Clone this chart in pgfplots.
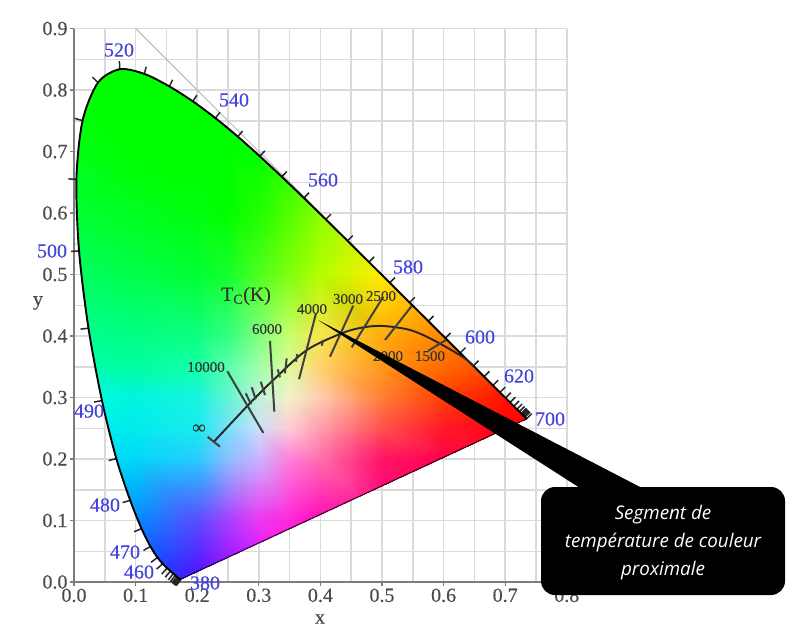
\documentclass[border=0pt]{standalone}
\usepackage{fontspec}
\setmainfont{Liberation Serif}
\newfontfamily\tf[FakeBold=0.35]{Liberation Serif}
\newfontfamily\wf[FakeBold=0.2]{Liberation Serif}
\newfontfamily\cf{Open Sans}
\usepackage{pgfplots}
\usepgfplotslibrary{patchplots}
\pgfplotsset{compat=1.18}
\definecolor{tickg}{RGB}{75,75,75}
\definecolor{axg}{RGB}{125,125,125}
\definecolor{gridg}{RGB}{218,218,218}
\definecolor{wl}{RGB}{65,65,220}
\newcommand\PP[2]{({#1pt-74pt},{582pt-#2pt})}
\newcommand\fs[1]{\fontsize{#1}{#1}\selectfont}
\begin{document}
\begin{tikzpicture}[x=1pt,y=1pt]
\useasboundingbox (-74pt,-51pt) rectangle (736pt,582pt);
\begin{axis}[
  at={(0pt,0pt)},anchor=south west,
  scale only axis,width=492.8pt,height=553.5pt,
  xmin=0,xmax=0.8,ymin=0,ymax=0.9,clip=false,
  axis lines=left,
  axis line style={-,color=axg,line width=1.6pt},
  xtick={0,0.1,...,0.8},ytick={0,0.1,...,0.9},
  minor tick num=1,grid=both,
  major grid style={gridg,line width=1.5pt},
  minor grid style={gridg,line width=1.5pt},
  major tick length=4pt,minor tick length=0pt,tick align=outside,
  tick style={axg,line width=1.3pt},
  tick label style={font=\tf\fs{20},text=tickg},
  every x tick label/.append style={yshift=1pt},
  every y tick label/.append style={xshift=1pt},
  /pgf/number format/.cd,fixed,fixed zerofill,precision=1,assume math mode=true,
]
\addplot[gray!55,line width=1pt,forget plot] coordinates {(0.1,0.9) (0.7347,0.2653)};
\begin{scope}
\clip plot[smooth] coordinates {(axis cs:.1741,.0050)(axis cs:.1714,.0051)(axis cs:.1689,.0069)(axis cs:.1644,.0109)(axis cs:.1566,.0177)(axis cs:.1510,.0227)(axis cs:.1440,.0297)(axis cs:.1355,.0399)(axis cs:.1241,.0578)(axis cs:.1096,.0868)(axis cs:.0913,.1327)(axis cs:.0687,.2007)(axis cs:.0454,.2950)(axis cs:.0235,.4127)(axis cs:.0082,.5384)(axis cs:.0039,.6548)(axis cs:.0139,.7502)(axis cs:.0389,.8120)(axis cs:.0743,.8338)(axis cs:.1142,.8262)(axis cs:.1547,.8059)(axis cs:.1929,.7816)(axis cs:.2296,.7543)(axis cs:.2658,.7243)(axis cs:.3016,.6923)(axis cs:.3373,.6589)(axis cs:.3731,.6245)(axis cs:.4087,.5896)(axis cs:.4441,.5547)(axis cs:.4788,.5202)(axis cs:.5125,.4866)(axis cs:.5448,.4544)(axis cs:.5752,.4242)(axis cs:.6029,.3965)(axis cs:.6270,.3725)(axis cs:.6482,.3514)(axis cs:.6658,.3340)(axis cs:.6801,.3197)(axis cs:.6915,.3083)(axis cs:.7006,.2993)(axis cs:.7079,.2920)(axis cs:.7140,.2859)(axis cs:.7190,.2809)(axis cs:.7260,.2740)(axis cs:.7347,.2653)} -- cycle;
\addplot[patch,patch type=rectangle,shader=interp,mesh/color input=explicit,forget plot,
  table/row sep=\\,
  patch table={
0 1 12 11\\1 2 13 12\\2 3 14 13\\3 4 15 14\\4 5 16 15\\5 6 17 16\\6 7 18 17\\7 8 19 18\\8 9 20 19\\9 10 21 20\\
11 12 23 22\\12 13 24 23\\13 14 25 24\\14 15 26 25\\15 16 27 26\\16 17 28 27\\17 18 29 28\\18 19 30 29\\19 20 31 30\\20 21 32 31\\
22 23 34 33\\23 24 35 34\\24 25 36 35\\25 26 37 36\\26 27 38 37\\27 28 39 38\\28 29 40 39\\29 30 41 40\\30 31 42 41\\31 32 43 42\\
33 34 45 44\\34 35 46 45\\35 36 47 46\\36 37 48 47\\37 38 49 48\\38 39 50 49\\39 40 51 50\\40 41 52 51\\41 42 53 52\\42 43 54 53\\
44 45 56 55\\45 46 57 56\\46 47 58 57\\47 48 59 58\\48 49 60 59\\49 50 61 60\\50 51 62 61\\51 52 63 62\\52 53 64 63\\53 54 65 64\\
55 56 67 66\\56 57 68 67\\57 58 69 68\\58 59 70 69\\59 60 71 70\\60 61 72 71\\61 62 73 72\\62 63 74 73\\63 64 75 74\\64 65 76 75\\
66 67 78 77\\67 68 79 78\\68 69 80 79\\69 70 81 80\\70 71 82 81\\71 72 83 82\\72 73 84 83\\73 74 85 84\\74 75 86 85\\75 76 87 86\\
77 78 89 88\\78 79 90 89\\79 80 91 90\\80 81 92 91\\81 82 93 92\\82 83 94 93\\83 84 95 94\\84 85 96 95\\85 86 97 96\\86 87 98 97\\
88 89 100 99\\89 90 101 100\\90 91 102 101\\91 92 103 102\\92 93 104 103\\93 94 105 104\\94 95 106 105\\95 96 107 106\\96 97 108 107\\97 98 109 108\\
99 100 111 110\\100 101 112 111\\101 102 113 112\\102 103 114 113\\103 104 115 114\\104 105 116 115\\105 106 117 116\\106 107 118 117\\107 108 119 118\\108 109 120 119\\
  },
] table[meta=c] {
x y c\\
0 0 0,.35,1\\ .1 0 0,.28,1\\ .2 0 .3,.05,1\\ .25 0 .6,0,1\\ .3 0 .85,0,1\\ .35 0 1,0,.9\\ .4 0 1,0,.8\\ .5 0 1,0,.62\\ .6 0 1,0,.5\\ .7 0 1,0,.43\\ .8 0 1,0,.33\\
0 .1 0,.6,1\\ .1 .1 0,.55,1\\ .2 .1 .35,.3,1\\ .25 .1 .65,.25,1\\ .3 .1 .92,.22,.95\\ .35 .1 1,.15,.85\\ .4 .1 1,.05,.72\\ .5 .1 1,0,.55\\ .6 .1 1,0,.42\\ .7 .1 1,0,.33\\ .8 .1 1,0,.22\\
0 .2 0,.87,.97\\ .1 .2 0,.85,.97\\ .2 .2 .15,.8,1\\ .25 .2 .55,.75,1\\ .3 .2 .8,.7,1\\ .35 .2 1,.5,.85\\ .4 .2 1,.43,.67\\ .5 .2 1,.08,.4\\ .6 .2 1,0,.3\\ .7 .2 1,0,.2\\ .8 .2 1,0,0\\
0 .25 0,.93,.92\\ .1 .25 0,.93,.92\\ .2 .25 .1,.92,.93\\ .25 .25 .47,.88,.98\\ .3 .25 .8,.88,.98\\ .35 .25 1,.8,.85\\ .4 .25 1,.62,.68\\ .5 .25 1,.32,.3\\ .6 .25 1,.1,.15\\ .7 .25 1,0,.05\\ .8 .25 1,0,0\\
0 .3 0,1,.85\\ .1 .3 0,.96,.88\\ .2 .3 .08,.96,.88\\ .25 .3 .38,.96,.82\\ .3 .3 .75,.95,.85\\ .35 .3 .95,.95,.78\\ .4 .3 1,.8,.7\\ .5 .3 1,.5,.2\\ .6 .3 1,.25,.02\\ .7 .3 1,.08,0\\ .8 .3 1,0,0\\
0 .35 0,1,.68\\ .1 .35 0,1,.62\\ .2 .35 .08,1,.65\\ .25 .35 .35,1,.67\\ .3 .35 .62,1,.67\\ .35 .35 .88,.98,.6\\ .4 .35 1,.83,.42\\ .5 .35 1,.6,.1\\ .6 .35 1,.42,0\\ .7 .35 1,.28,0\\ .8 .35 1,.1,0\\
0 .4 0,1,.58\\ .1 .4 0,1,.52\\ .2 .4 .05,1,.5\\ .25 .4 .2,1,.5\\ .3 .4 .5,1,.5\\ .35 .4 .78,1,.43\\ .4 .4 .97,.9,.3\\ .5 .4 1,.68,.05\\ .6 .4 1,.52,0\\ .7 .4 1,.38,0\\ .8 .4 1,.25,0\\
0 .5 0,1,.38\\ .1 .5 0,1,.28\\ .2 .5 0,1,.2\\ .25 .5 .08,1,.17\\ .3 .5 .3,1,.12\\ .35 .5 .5,1,.05\\ .4 .5 .7,1,0\\ .5 .5 1,.93,0\\ .6 .5 1,.72,0\\ .7 .5 1,.55,0\\ .8 .5 1,.42,0\\
0 .6 0,1,.2\\ .1 .6 0,1,.12\\ .2 .6 0,1,.05\\ .25 .6 0,1,0\\ .3 .6 .12,1,0\\ .35 .6 .32,1,0\\ .4 .6 .55,1,0\\ .5 .6 .92,1,0\\ .6 .6 1,.85,0\\ .7 .6 1,.7,0\\ .8 .6 1,.6,0\\
0 .7 0,1,.08\\ .1 .7 0,1,0\\ .2 .7 0,1,0\\ .25 .7 0,1,0\\ .3 .7 0,1,0\\ .35 .7 .1,1,0\\ .4 .7 .38,1,0\\ .5 .7 .75,1,0\\ .6 .7 1,.98,0\\ .7 .7 1,.9,0\\ .8 .7 1,.8,0\\
0 .85 0,1,0\\ .1 .85 0,1,0\\ .2 .85 0,1,0\\ .25 .85 0,1,0\\ .3 .85 0,1,0\\ .35 .85 0,1,0\\ .4 .85 0,1,0\\ .5 .85 .57,1,0\\ .6 .85 .8,1,0\\ .7 .85 1,1,0\\ .8 .85 1,1,0\\
};
\end{scope}
% purple line
\addplot[black,opacity=0.7,line width=1.2pt,forget plot] coordinates {(.1741,.0050) (.7347,.2653)};
% wavelength ticks
\addplot[black!85,line width=1.5pt,unbounded coords=jump,forget plot] coordinates {
(.1741,.0050)(.1663,-.0054)(nan,nan)
(.1733,.0048)(.1655,-.0056)(nan,nan)
(.1721,.0048)(.1643,-.0056)(nan,nan)
(.1714,.0051)(.1636,-.0053)(nan,nan)
(.1703,.0058)(.1625,-.0046)(nan,nan)
(.1689,.0069)(.1611,-.0035)(nan,nan)
(.1669,.0086)(.1591,-.0018)(nan,nan)
(.1644,.0109)(.1566,.0005)(nan,nan)
(.1611,.0138)(.1533,.0034)(nan,nan)
(.1566,.0177)(.1481,.0078)(nan,nan)
(.1510,.0227)(.1425,.0128)(nan,nan)
(.1440,.0297)(.1342,.0211)(nan,nan)
(.1355,.0399)(.1251,.0321)(nan,nan)
(.1241,.0578)(.1128,.0513)(nan,nan)
(.1096,.0868)(.0976,.0818)(nan,nan)
(.0913,.1327)(.0788,.1292)(nan,nan)
(.0687,.2007)(.0562,.1975)(nan,nan)
(.0454,.2950)(.0327,.2926)(nan,nan)
(.0235,.4127)(.0106,.4112)(nan,nan)
(.0082,.5384)(-.0048,.5376)(nan,nan)
(.0039,.6548)(-.0091,.6554)(nan,nan)
(.0139,.7502)(.0013,.7539)(nan,nan)
(.0389,.8120)(.0300,.8210)(nan,nan)
(.0743,.8338)(.0737,.8468)(nan,nan)
(.1142,.8262)(.1172,.8378)(nan,nan)
(.1547,.8059)(.1601,.8166)(nan,nan)
(.1929,.7816)(.1995,.7916)(nan,nan)
(.2296,.7543)(.2370,.7637)(nan,nan)
(.2658,.7243)(.2737,.7333)(nan,nan)
(.3016,.6923)(.3098,.7011)(nan,nan)
(.3373,.6589)(.3456,.6675)(nan,nan)
(.3731,.6245)(.3815,.6330)(nan,nan)
(.4087,.5896)(.4171,.5981)(nan,nan)
(.4441,.5547)(.4525,.5632)(nan,nan)
(.4788,.5202)(.4873,.5287)(nan,nan)
(.5125,.4866)(.5210,.4951)(nan,nan)
(.5448,.4544)(.5533,.4629)(nan,nan)
(.5752,.4242)(.5837,.4327)(nan,nan)
(.6029,.3965)(.6114,.4050)(nan,nan)
(.6270,.3725)(.6355,.3810)(nan,nan)
(.6482,.3514)(.6567,.3599)(nan,nan)
(.6658,.3340)(.6743,.3425)(nan,nan)
(.6801,.3197)(.6886,.3282)(nan,nan)
(.6915,.3083)(.7000,.3168)(nan,nan)
(.7006,.2993)(.7091,.3078)(nan,nan)
(.7079,.2920)(.7164,.3005)(nan,nan)
(.7140,.2859)(.7225,.2944)(nan,nan)
(.7190,.2809)(.7275,.2894)(nan,nan)
(.7230,.2770)(.7315,.2855)(nan,nan)
(.7260,.2740)(.7345,.2825)(nan,nan)
(.7283,.2717)(.7368,.2802)(nan,nan)
(.7300,.2700)(.7385,.2785)(nan,nan)
(.7311,.2689)(.7396,.2774)(nan,nan)
(.7320,.2680)(.7405,.2765)(nan,nan)
(.7347,.2653)(.7432,.2738)
};
% spectral locus
\addplot[black,line width=1.9pt,smooth,forget plot] coordinates {
(.1741,.0050)(.1714,.0051)(.1689,.0069)(.1644,.0109)(.1566,.0177)(.1510,.0227)(.1440,.0297)(.1355,.0399)(.1241,.0578)(.1096,.0868)(.0913,.1327)(.0687,.2007)(.0454,.2950)(.0235,.4127)(.0082,.5384)(.0039,.6548)(.0139,.7502)(.0389,.8120)(.0743,.8338)(.1142,.8262)(.1547,.8059)(.1929,.7816)(.2296,.7543)(.2658,.7243)(.3016,.6923)(.3373,.6589)(.3731,.6245)(.4087,.5896)(.4441,.5547)(.4788,.5202)(.5125,.4866)(.5448,.4544)(.5752,.4242)(.6029,.3965)(.6270,.3725)(.6482,.3514)(.6658,.3340)(.6801,.3197)(.6915,.3083)(.7006,.2993)(.7079,.2920)(.7140,.2859)(.7190,.2809)(.7260,.2740)(.7347,.2653)
};
% Planckian locus
\addplot[black!85,line width=1.9pt,smooth,forget plot] coordinates {
(.227,.228)(.283,.288)(.3236,.3285)(.3777,.377)(.4346,.4044)(.4697,.4141)(.5021,.4163)(.5455,.4098)(.5833,.3935)(.632,.3654)(.648,.352)
};
% isotherms and short ticks
\addplot[black!75,line width=2pt,unbounded coords=jump,forget plot] coordinates {
(.2489,.3427)(.3073,.2425)(nan,nan)
(.3182,.3919)(.3252,.2769)(nan,nan)
(.3929,.4371)(.3653,.3298)(nan,nan)
(.4534,.4493)(.4156,.3664)(nan,nan)
(.5021,.4639)(.4508,.3816)(nan,nan)
(.5482,.4488)(.5049,.3935)(nan,nan)
(.6039,.3935)(.5752,.3761)(nan,nan)
(.2787,.3068)(.2873,.2894)(nan,nan)
(.2885,.3166)(.2950,.2971)(nan,nan)
(.3031,.3257)(.3101,.3041)(nan,nan)
(.3307,.3458)(.3344,.3328)(nan,nan)
(.3453,.3637)(.3425,.3393)(nan,nan)
(.3625,.3707)(.3604,.3582)(nan,nan)
(.4047,.3935)(.4021,.3842)(nan,nan)
(.2170,.2360)(.2370,.2200)
};
\end{axis}
% labels
\node[text=tickg,font=\tf\fs{20}] at \PP{320}{619} {x};
\node[text=tickg,font=\tf\fs{20}] at \PP{38}{303} {y};
\foreach \t/\a/\b in {520/119/50,540/234/100,560/323/180,580/408/267,600/480/337,620/519/376,700/550/419,500/52/251,490/89/411,480/105/505,470/125/552,460/139/572,380/205/583}
  \node[text=wl,font=\wf\fs{20},inner sep=0pt] at \PP{\a}{\b} {\t};
\node[text=black!80,font=\wf\fs{20},inner sep=0pt] at \PP{246}{296} {T\textsubscript{C}(K)};
\foreach \t/\a/\b in {10000/206/367,6000/267/329,4000/312/309,3000/348/299,2500/381/296,2000/388/356,1500/430/356}
  \node[text=black!80,font=\wf\fs{15},inner sep=0pt] at \PP{\a}{\b} {\t};
\node[text=black!80,font=\wf\fs{19},inner sep=0pt] at \PP{199}{429} {∞};
% callout
\fill[black] \PP{318}{320} -- \PP{580}{488} -- \PP{642}{488} -- cycle;
\fill[black,rounded corners=14pt] \PP{541}{487} rectangle \PP{785}{595};
\foreach \t/\b in {Segment de/515,température de couleur/543,proximale/571}
  \node[text=white,font=\cf\itshape\fs{18.8},inner sep=0pt] at \PP{663}{\b} {\t};
\end{tikzpicture}
\end{document}
